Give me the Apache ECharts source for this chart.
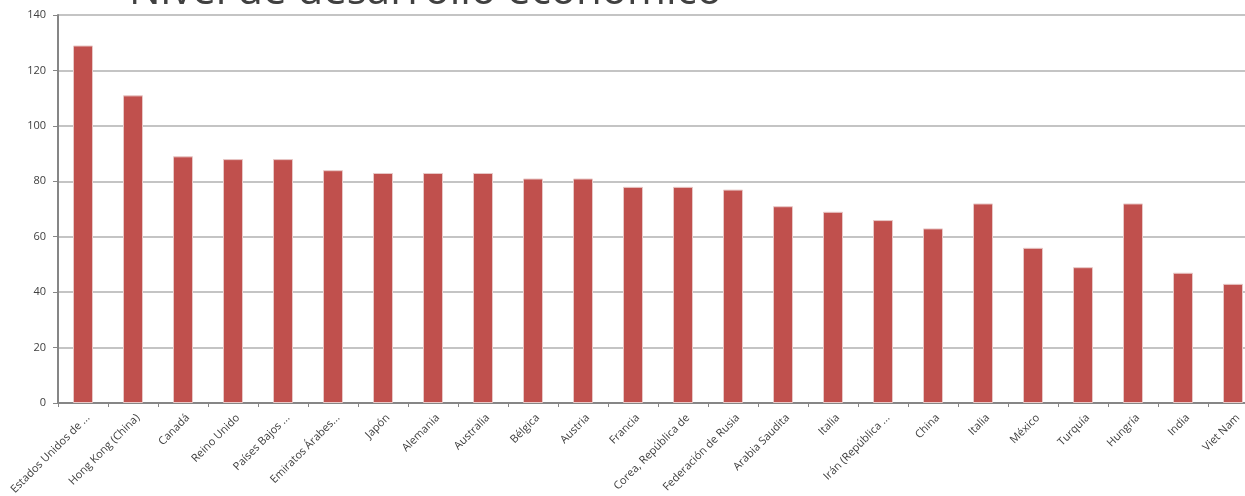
<!DOCTYPE html>
<html>
<head>
<meta charset="utf-8">
<script src="https://cdn.jsdelivr.net/npm/echarts@6/dist/echarts.min.js"></script>
<style>
html,body{margin:0;padding:0;background:#fff;}
#chart{width:1245px;height:496px;}
</style>
</head>
<body>
<div id="chart"></div>
<script>
const titleText = "Nivel de desarrollo económico";
const categories = [
  "Estados Unidos de ...", "Hong Kong (China)", "Canadá", "Reino Unido", "Países Bajos ...",
  "Emiratos Árabes...", "Japón", "Alemania", "Australia", "Bélgica", "Austria", "Francia",
  "Corea, República de", "Federación de Rusia", "Arabia Saudita", "Italia", "Irán (República ...",
  "China", "Italia", "México", "Turquía", "Hungría", "India", "Viet Nam"
];
const values = [129, 111, 89, 88, 88, 84, 83, 83, 83, 81, 81, 78, 78, 77, 71, 69, 66, 63, 72, 56, 49, 72, 47, 43];
const yTicks = [0, 20, 40, 60, 80, 100, 120, 140];

const chart = echarts.init(document.getElementById('chart'), null, {renderer: 'canvas'});
chart.setOption({
  animation: false,
  backgroundColor: '#ffffff',
  title: {
    text: titleText,
    left: 124,
    top: -34,
    textStyle: {fontFamily: 'Open Sans', fontSize: 42, fontWeight: 'normal', color: '#404040'}
  },
  grid: {left: 58, top: 15, width: 1200, height: 388, containLabel: false, outerBoundsMode: 'none'},
  xAxis: {
    type: 'category',
    data: categories,
    axisLine: {lineStyle: {color: '#868686', width: 2}},
    axisTick: {show: true, alignWithLabel: false, length: 4, lineStyle: {color: '#868686'}},
    axisLabel: {interval: 0, rotate: 45, margin: 18, padding: [0, -7, 0, 0], color: '#404040', fontFamily: 'Open Sans', fontSize: 11}
  },
  yAxis: {
    type: 'value',
    min: 0, max: 140, interval: 20,
    axisLine: {show: true, lineStyle: {color: '#868686', width: 2}},
    axisTick: {show: true, length: 5, lineStyle: {color: '#868686'}},
    axisLabel: {color: '#404040', fontFamily: 'Open Sans', fontSize: 11, margin: 12,
      formatter: v => yTicks.includes(v) ? String(v) : ''},
    splitLine: {lineStyle: {color: '#c4c4c4', width: 2}}
  },
  series: [{
    type: 'bar',
    data: values,
    barWidth: 20,
    itemStyle: {color: '#c0504d', borderColor: '#e8c8c7', borderWidth: 1}
  }]
});
</script>
</body>
</html>
